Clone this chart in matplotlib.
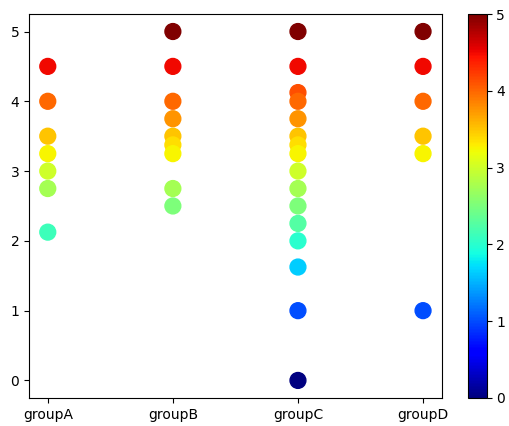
import matplotlib
matplotlib.use("Agg")
import matplotlib.pyplot as plt

# values per group
groupA = [4.5, 4.0, 3.5, 3.25, 3.0, 2.75, 2.125]
groupB = [5.0, 4.5, 4.0, 3.75, 3.5, 3.375, 3.25, 2.75, 2.5]
groupC = [5.0, 4.5, 4.125, 4.0, 3.75, 3.5, 3.375, 3.25, 3.0, 2.75, 2.5, 2.25, 2.0, 1.625, 1.0, 0.0]
groupD = [5.0, 4.5, 4.0, 3.5, 3.25, 1.0]

names = ["groupA", "groupB", "groupC", "groupD"]
values = [groupA, groupB, groupC, groupD]

xs = []
ys = []
for name, vals in zip(names, values):
    xs += [name] * len(vals)
    ys += vals

fig = plt.figure(figsize=(5.09, 4.26), dpi=100)
ax = fig.add_axes([0.057, 0.066, 0.811, 0.901])
cax = fig.add_axes([0.919, 0.066, 0.037, 0.901])
sc = ax.scatter(xs, ys, c=ys, cmap="jet", vmin=0, vmax=5, s=130)
fig.colorbar(sc, cax=cax)
fig.savefig("out.png", dpi=100)
